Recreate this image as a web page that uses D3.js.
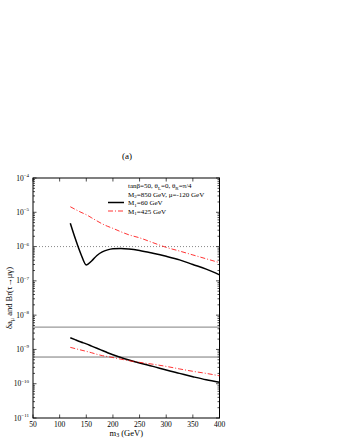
<!DOCTYPE html>
<html lang="en">
<head>
  <meta charset="UTF-8">
  <title>delta a_mu and Br(tau -> mu gamma)</title>
  <script src="https://d3js.org/d3.v7.min.js"></script>
  <style>
    body { margin: 0; background: #fff; }
    svg { display: block; font-family: "Liberation Serif", "DejaVu Serif", serif; }
  </style>
</head>
<body>
  <svg width="340" height="440"></svg>

  <script>
    // m3 (GeV) sample points for the curves
    const m3 = [120, 130, 140, 150, 160, 170, 180, 190, 200, 215, 230, 250, 275, 300, 325, 350, 375, 400];
    // Br(tau -> mu gamma), M1 = 60 GeV (solid black)
    const brM60 = [4.8e-6, 1.6e-6, 6.0e-7, 2.9e-7, 3.8e-7, 5.5e-7, 7.0e-7, 8.0e-7, 8.6e-7, 8.8e-7, 8.5e-7, 7.7e-7, 6.4e-7, 5.2e-7, 4.1e-7, 3.0e-7, 2.2e-7, 1.5e-7];
    // Br(tau -> mu gamma), M1 = 425 GeV (red dash-dot)
    const brM425 = [1.45e-5, 1.2e-5, 1.0e-5, 8.5e-6, 6.9e-6, 5.6e-6, 4.6e-6, 3.9e-6, 3.4e-6, 2.7e-6, 2.2e-6, 1.8e-6, 1.3e-6, 9.5e-7, 7.4e-7, 5.7e-7, 4.4e-7, 3.4e-7];
    // delta a_mu, M1 = 60 GeV (solid black)
    const amuM60 = [2.2e-9, 1.9e-9, 1.65e-9, 1.45e-9, 1.25e-9, 1.08e-9, 9.3e-10, 8.0e-10, 7.0e-10, 5.8e-10, 4.9e-10, 4.0e-10, 3.2e-10, 2.5e-10, 2.0e-10, 1.6e-10, 1.3e-10, 1.1e-10];
    // delta a_mu, M1 = 425 GeV (red dash-dot)
    const amuM425 = [1.15e-9, 1.05e-9, 9.6e-10, 8.8e-10, 8.0e-10, 7.2e-10, 6.6e-10, 6.2e-10, 5.8e-10, 5.2e-10, 4.7e-10, 4.2e-10, 3.7e-10, 3.2e-10, 2.7e-10, 2.3e-10, 2.0e-10, 1.7e-10];

    // reference levels: dotted Br bound, light grey and dark grey limits
    const brLimit = 1e-6;
    const amuUpper = 4.5e-9;
    const amuLower = 6.0e-10;

    const xTicks = [50, 100, 150, 200, 250, 300, 350, 400];
    const yExps = [-4, -5, -6, -7, -8, -9, -10, -11];
    const legendSeries = ["M1=60 GeV", "M1=425 GeV"];

    const svg = d3.select("svg");
    const pL = 33, pR = 219.5, pT = 178, pB = 418;

    const x = d3.scaleLinear().domain([50, 400]).range([pL, pR]);
    const y = d3.scaleLog().domain([1e-11, 1e-4]).range([pB, pT]);

    // frame
    svg.append("rect")
      .attr("x", pL).attr("y", pT)
      .attr("width", pR - pL).attr("height", pB - pT)
      .attr("fill", "none").attr("stroke", "#000").attr("stroke-width", 1);

    // x ticks (inward, top and bottom)
    const tk = svg.append("g").attr("stroke", "#000").attr("stroke-width", 0.7);
    xTicks.forEach(v => {
      tk.append("line").attr("x1", x(v)).attr("x2", x(v)).attr("y1", pB).attr("y2", pB - 3.5);
      tk.append("line").attr("x1", x(v)).attr("x2", x(v)).attr("y1", pT).attr("y2", pT + 3.5);
    });

    // y ticks: major decades + log minors
    for (let e = -11; e <= -4; e++) {
      const v = Math.pow(10, e);
      tk.append("line").attr("x1", pL).attr("x2", pL + 3.5).attr("y1", y(v)).attr("y2", y(v));
      tk.append("line").attr("x1", pR).attr("x2", pR - 3.5).attr("y1", y(v)).attr("y2", y(v));
      if (e < -4) {
        for (let k = 2; k <= 9; k++) {
          const mv = k * v;
          tk.append("line").attr("x1", pL).attr("x2", pL + 2).attr("y1", y(mv)).attr("y2", y(mv));
          tk.append("line").attr("x1", pR).attr("x2", pR - 2).attr("y1", y(mv)).attr("y2", y(mv));
        }
      }
    }

    // tick labels
    svg.append("g").selectAll("text")
      .data(xTicks).enter().append("text")
      .attr("x", d => x(d)).attr("y", pB + 8.5)
      .attr("text-anchor", "middle").attr("font-size", 7.5)
      .text(d => d);

    const yl = svg.append("g").selectAll("text")
      .data(yExps).enter().append("text")
      .attr("x", pL - 4).attr("y", d => y(Math.pow(10, d)) + 2.5)
      .attr("text-anchor", "end").attr("font-size", 7.5);
    yl.append("tspan").text("10");
    yl.append("tspan").attr("dy", -3.5).attr("font-size", 5).text(d => "\u2212" + (-d));

    // axis titles
    const xt = svg.append("text")
      .attr("x", (pL + pR) / 2).attr("y", pB + 17.5)
      .attr("text-anchor", "middle").attr("font-size", 8.5);
    xt.append("tspan").text("m");
    xt.append("tspan").attr("dy", 1.5).attr("font-size", 6).text("3");
    xt.append("tspan").attr("dy", -1.5).text(" (GeV)");

    const yt = svg.append("text")
      .attr("transform", `translate(12,${(pT + pB) / 2}) rotate(-90)`)
      .attr("text-anchor", "middle").attr("font-size", 8.5);
    yt.append("tspan").text("\u03b4a");
    yt.append("tspan").attr("dy", 2).attr("font-size", 6).text("\u03bc");
    yt.append("tspan").attr("dy", -2).text(" and Br(\u03c4\u2192\u03bc\u03b3)");

    svg.append("text")
      .attr("x", 127).attr("y", 159)
      .attr("text-anchor", "middle").attr("font-size", 9)
      .text("(a)");

    // horizontal reference lines
    svg.append("line")
      .attr("x1", pL).attr("x2", pR).attr("y1", y(brLimit)).attr("y2", y(brLimit))
      .attr("stroke", "#555").attr("stroke-width", 0.7).attr("stroke-dasharray", "1,2");
    svg.append("line")
      .attr("x1", pL).attr("x2", pR).attr("y1", y(amuUpper)).attr("y2", y(amuUpper))
      .attr("stroke", "#999").attr("stroke-width", 1.3);
    svg.append("line")
      .attr("x1", pL).attr("x2", pR).attr("y1", y(amuLower)).attr("y2", y(amuLower))
      .attr("stroke", "#555").attr("stroke-width", 0.8);

    // curves
    const line = d3.line()
      .x(d => x(d[0])).y(d => y(d[1]))
      .curve(d3.curveMonotoneX);

    const series = [
      { vals: brM60, color: "#000", width: 1.5, dash: null },
      { vals: amuM60, color: "#000", width: 1.5, dash: null },
      { vals: brM425, color: "#f00", width: 0.8, dash: "5,2,1,2" },
      { vals: amuM425, color: "#f00", width: 0.8, dash: "5,2,1,2" }
    ];
    series.forEach(s => {
      svg.append("path")
        .datum(m3.map((m, i) => [m, s.vals[i]]))
        .attr("d", line)
        .attr("fill", "none")
        .attr("stroke", s.color)
        .attr("stroke-width", s.width)
        .attr("stroke-dasharray", s.dash);
    });

    // legend
    const lg = svg.append("g").attr("font-size", 7);
    const l1 = lg.append("text").attr("x", 128).attr("y", 188);
    l1.append("tspan").text("tan\u03b2=50, \u03b8");
    l1.append("tspan").attr("dy", 1.5).attr("font-size", 5).text("L");
    l1.append("tspan").attr("dy", -1.5).text("=0, \u03b8");
    l1.append("tspan").attr("dy", 1.5).attr("font-size", 5).text("R");
    l1.append("tspan").attr("dy", -1.5).text("=\u03c0/4");

    const l2 = lg.append("text").attr("x", 128).attr("y", 196.5);
    l2.append("tspan").text("M");
    l2.append("tspan").attr("dy", 1.5).attr("font-size", 5).text("2");
    l2.append("tspan").attr("dy", -1.5).text("=850 GeV, \u03bc=-120 GeV");

    legendSeries.forEach((t, i) => {
      const yy = 205 + i * 8.5;
      lg.append("line")
        .attr("x1", 108).attr("x2", 124).attr("y1", yy - 2.5).attr("y2", yy - 2.5)
        .attr("stroke", i === 0 ? "#000" : "#f00")
        .attr("stroke-width", i === 0 ? 1.5 : 0.8)
        .attr("stroke-dasharray", i === 0 ? null : "5,2,1,2");
      const tx = lg.append("text").attr("x", 128).attr("y", yy);
      tx.append("tspan").text("M");
      tx.append("tspan").attr("dy", 1.5).attr("font-size", 5).text("1");
      tx.append("tspan").attr("dy", -1.5).text(t.slice(2));
    });
  </script>
</body>
</html>
